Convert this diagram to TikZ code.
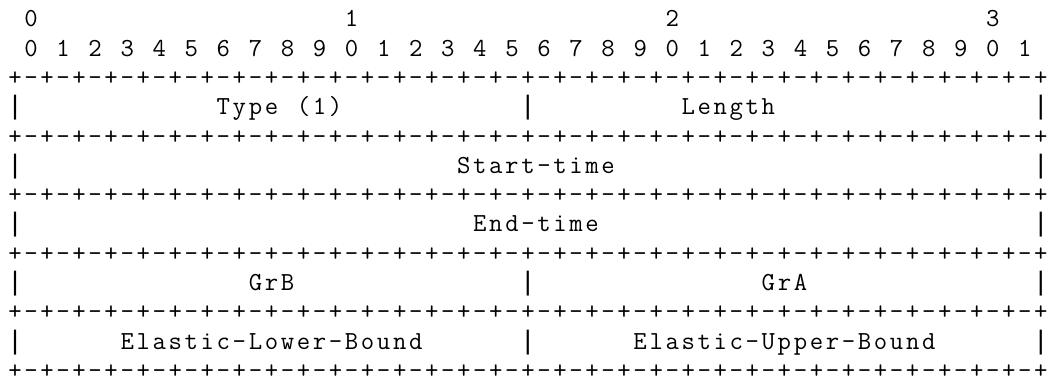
\documentclass[tikz,border=0pt]{standalone}
\usepackage{fontspec}
\newfontfamily\barfont{Liberation Mono}
\makeatletter
\newcommand\cellbox[1]{\makebox[16.03pt][c]{#1}}
\def\gridtext#1{\@gridtext#1\@nil}
\def\@gridtext#1{\ifx#1\@nil\else\cellbox{#1}\expandafter\@gridtext\fi}
\makeatother
\begin{document}
\begin{tikzpicture}[x=16.03pt,y=-29.3pt,
  cell/.style={anchor=base west,inner sep=0pt,outer sep=0pt,text=black,
    font=\ttfamily\fontsize{26}{29.3}\selectfont},
  bar/.style={cell,font=\barfont\fontsize{26.72}{29.3}\selectfont}]
\useasboundingbox (-7pt,0pt) rectangle (1043pt,-378pt);
\begin{scope}[yshift=-26.8pt]
% bit-number header
\node[cell] (t0) at (1,0) {\gridtext{0}};
\node[cell] (t1) at (21,0) {\gridtext{1}};
\node[cell] (t2) at (41,0) {\gridtext{2}};
\node[cell] (t3) at (61,0) {\gridtext{3}};
\foreach \i in {0,...,31}{
  \pgfmathtruncatemacro{\dg}{mod(\i,10)}
  \node[cell] (d\i) at ({1+2*\i},1) {\cellbox{\dg}};
}
% separator rows
\foreach \r in {2,4,6,8,10,12}{
  \node[cell] (sep\r) at (0,\r) {\gridtext{+-+-+-+-+-+-+-+-+-+-+-+-+-+-+-+-+-+-+-+-+-+-+-+-+-+-+-+-+-+-+-+-+}};
}
% outer bars
\foreach \r in {3,5,7,9,11}{
  \node[bar] (l\r) at (0,\r) {|};
  \node[bar] (r\r) at (64,\r) {|};
}
% middle bars
\foreach \r in {3,9,11}{
  \node[bar] (m\r) at (32,\r) {|};
}
% field labels
\node[cell] (type) at (13,3) {\gridtext{Type~(1)}};
\node[cell] (len) at (42,3) {\gridtext{Length}};
\node[cell] (start) at (28,5) {\gridtext{Start-time}};
\node[cell] (end) at (29,7) {\gridtext{End-time}};
\node[cell] (grb) at (15,9) {\gridtext{GrB}};
\node[cell] (gra) at (47,9) {\gridtext{GrA}};
\node[cell] (elb) at (7,11) {\gridtext{Elastic-Lower-Bound}};
\node[cell] (eub) at (39,11) {\gridtext{Elastic-Upper-Bound}};
\end{scope}
\end{tikzpicture}
\end{document}
